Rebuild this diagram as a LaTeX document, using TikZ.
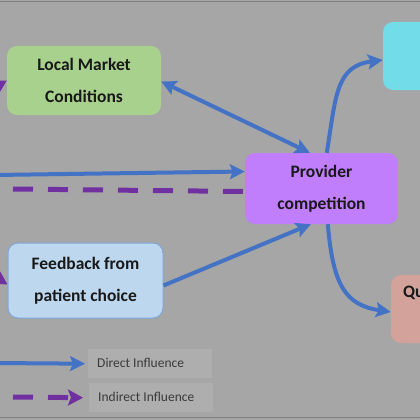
\documentclass[tikz,border=0pt]{standalone}
\usepackage{fontspec}
\setmainfont{Carlito}
\usetikzlibrary{arrows.meta,calc}
\definecolor{bg}{HTML}{A6A6A6}
\definecolor{edgegray}{HTML}{808080}
\definecolor{arrblue}{HTML}{4472C4}
\definecolor{arrpurple}{HTML}{7030A0}
\definecolor{boxgreen}{HTML}{A9D18E}
\definecolor{boxpurple}{HTML}{C07EFC}
\definecolor{boxcyan}{HTML}{72DCE9}
\definecolor{boxlblue}{HTML}{BDD7EE}
\definecolor{boxlblueedge}{HTML}{7FA7D9}
\definecolor{boxpink}{HTML}{D3A29A}
\definecolor{legendfill}{HTML}{AEAEAE}
\definecolor{legendtext}{HTML}{3A3A3A}
\tikzset{
  mainbox/.style={rounded corners=10pt, inner sep=0pt, align=center,
    font=\fontsize{17.5}{32}\selectfont\bfseries, text=black!90},
  legbox/.style={fill=legendfill, inner sep=0pt, anchor=north west,
    font=\fontsize{13.5}{16}\selectfont, text=legendtext},
  direct/.style={draw=arrblue, line width=4pt,
    -{Stealth[length=15pt,width=15pt,inset=3pt]}},
  directboth/.style={draw=arrblue, line width=4pt,
    {Stealth[length=15pt,width=15pt,inset=3pt]}-{Stealth[length=15pt,width=15pt,inset=3pt]}},
  indirectline/.style={draw=arrpurple, line width=5pt, dash pattern=on 20pt off 15pt},
  indirect/.style={indirectline, -{Stealth[length=15pt,width=16pt,inset=3pt]}},
}
\begin{document}
\begin{tikzpicture}[x=1pt,y=-1pt]
\useasboundingbox (0,0) rectangle (420,420);
\clip (0,0) rectangle (420,420);
\fill[bg] (0,0) rectangle (420,420);
\draw[edgegray, line width=1.2pt] (-5,1.5) -- (425,1.5);
\draw[edgegray, line width=1.2pt] (-5,417.5) -- (425,417.5);

% boxes
\node[mainbox, fill=boxgreen, minimum width=154pt, minimum height=69pt] (L) at (84,80.5) {Local Market\\Conditions};
\node[mainbox, fill=boxpurple, minimum width=153pt, minimum height=71pt] (P) at (321.5,188.5) {Provider\\competition};
\node[mainbox, fill=boxlblue, draw=boxlblueedge, line width=1pt, minimum width=155pt, minimum height=75pt] (F) at (85.5,280.5) {Feedback from\\patient choice};
\node[mainbox, fill=boxcyan, minimum width=100pt, minimum height=68pt] (C) at (433,56) {};
\node[mainbox, fill=boxpink, minimum width=100pt, minimum height=68pt] (Q) at (441,309) {};
\node[anchor=west, inner sep=0pt, font=\fontsize{17.5}{20}\selectfont\bfseries, text=black!90] (Qt) at (403,293) {Qu};

% free ends
\coordinate (inA) at (-5,175);
\coordinate (inB) at (13,189);
\coordinate (inL) at (-40,108);
\coordinate (inF) at (-40,255);

% connectors
\draw[directboth] ($(L.east)+(0,1)$) -- ($(P.north west)+(65,0)$);
\draw[direct] (inA) -- ($(P.west)+(0,-17)$);
\draw[indirectline] (inB) -- ($(P.west)+(0,3)$);
\draw[direct] ($(F.east)+(0,5)$) -- ($(P.south west)+(66,0)$);
\draw[direct] ($(P.north west)+(82,0)$) .. controls (336,95) and (336,66) .. ($(C.west)+(0,4)$);
\draw[direct] ($(P.south west)+(83,0)$) .. controls (333,285) and (345,305) .. ($(Q.west)+(0,3)$);
\draw[indirect] (inL) -- ($(L.west)+(0,0)$);
\draw[indirect] (inF) -- ($(F.west)+(0,4)$);

% legend
\node[legbox, minimum width=124pt, minimum height=29pt] (D) at (88,349) {};
\node[anchor=west, inner sep=0pt, font=\fontsize{13.5}{16}\selectfont, text=legendtext] (Dt) at (97,363) {Direct Influence};
\node[legbox, minimum width=124pt, minimum height=29pt] (I) at (89,383) {};
\node[anchor=west, inner sep=0pt, font=\fontsize{13.5}{16}\selectfont, text=legendtext] (It) at (98,397) {Indirect Influence};
\coordinate (lgA) at (-5,363);
\coordinate (lgB) at (13,397);
\draw[direct] (lgA) -- ($(D.west)+(-3,0)$);
\draw[indirect] (lgB) -- ($(I.west)+(-6,0)$);
\end{tikzpicture}
\end{document}
